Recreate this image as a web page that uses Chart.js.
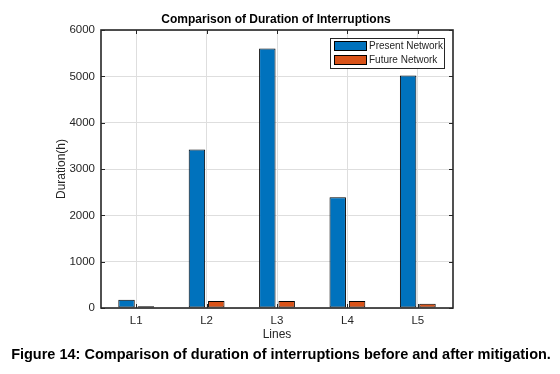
<!DOCTYPE html>
<html>
<head>
<meta charset="utf-8">
<script src="https://cdn.jsdelivr.net/npm/chart.js@4.4.1/dist/chart.umd.min.js"></script>
<style>
  html, body { margin: 0; padding: 0; background: #fff; }
  canvas { display: block; }
</style>
</head>
<body>
<canvas id="barChart" width="560" height="374"></canvas>
<script>
// data
const categories = ["L1", "L2", "L3", "L4", "L5"];
const presentNetwork = [180, 3420, 5600, 2390, 5020];
const futureNetwork = [40, 150, 150, 150, 90];
const yTicks = [0, 1000, 2000, 3000, 4000, 5000, 6000];

const chartTitle = "Comparison of Duration of Interruptions";
const caption = "Figure 14: Comparison of duration of interruptions before and after mitigation.";

const FONT = "'Liberation Sans', Arial, sans-serif";
const AXIS = "#262626";

// box, inward ticks, legend, title and caption
const matlabLook = {
    id: "matlabLook",
    afterDatasetsDraw(chart) {
        const ctx = chart.ctx;
        const a = chart.chartArea;
        const xs = chart.scales.x, ys = chart.scales.y;
        ctx.save();
        ctx.strokeStyle = AXIS;
        ctx.lineWidth = 1.6;
        ctx.strokeRect(a.left, a.top, a.right - a.left, a.bottom - a.top);

        // ticks pointing inward
        ctx.lineWidth = 1;
        ctx.beginPath();
        yTicks.forEach(v => {
            const y = Math.round(ys.getPixelForValue(v)) + 0.5;
            ctx.moveTo(a.left, y); ctx.lineTo(a.left + 4, y);
            ctx.moveTo(a.right, y); ctx.lineTo(a.right - 4, y);
        });
        categories.forEach((c, i) => {
            const x = Math.round(xs.getPixelForValue(i)) + 0.5;
            ctx.moveTo(x, a.bottom); ctx.lineTo(x, a.bottom - 4);
            ctx.moveTo(x, a.top); ctx.lineTo(x, a.top + 4);
        });
        ctx.stroke();
        ctx.restore();
    },
    afterDraw(chart) {
        const ctx = chart.ctx;
        ctx.save();

        // legend
        const lx = 330, ly = 38, lw = 114, lh = 30;
        ctx.fillStyle = "#fff";
        ctx.fillRect(lx, ly, lw, lh);
        ctx.strokeStyle = AXIS;
        ctx.lineWidth = 1;
        ctx.strokeRect(lx + 0.5, ly + 0.5, lw, lh);
        ctx.font = "10px " + FONT;
        ctx.textBaseline = "middle";
        chart.data.datasets.forEach((ds, i) => {
            const cy = ly + 8 + i * 14;
            ctx.fillStyle = ds.backgroundColor;
            ctx.fillRect(334, cy - 4.5, 32, 9);
            ctx.strokeStyle = "#000";
            ctx.strokeRect(334.5, cy - 4.5, 32, 9);
            ctx.fillStyle = AXIS;
            ctx.textAlign = "left";
            ctx.fillText(ds.label, 369, cy + 0.5);
        });

        // title
        ctx.fillStyle = "#000";
        ctx.textAlign = "center";
        ctx.textBaseline = "middle";
        ctx.font = "bold 12px " + FONT;
        ctx.fillText(chartTitle, 276, 20);

        // caption
        ctx.font = "bold 14.5px " + FONT;
        ctx.fillText(caption, 281, 355);
        ctx.restore();
    }
};

new Chart(document.getElementById("barChart").getContext("2d"), {
    type: "bar",
    data: {
        labels: categories,
        datasets: [{
            label: "Present Network",
            data: presentNetwork,
            backgroundColor: "#0072BD",
            borderColor: "#000",
            borderWidth: 1,
            borderSkipped: false,
            categoryPercentage: 0.55,
            barPercentage: 0.85
        }, {
            label: "Future Network",
            data: futureNetwork,
            backgroundColor: "#D95319",
            borderColor: "#000",
            borderWidth: 1,
            borderSkipped: false,
            categoryPercentage: 0.55,
            barPercentage: 0.85
        }]
    },
    options: {
        responsive: false,
        animation: false,
        devicePixelRatio: 1,
        layout: { padding: { left: 0, top: 30, right: 107, bottom: 0 } },
        plugins: {
            legend: { display: false },
            title: { display: false },
            tooltip: { enabled: false }
        },
        scales: {
            x: {
                offset: true,
                grid: { offset: false, color: "#dedede", drawTicks: false },
                border: { display: false },
                ticks: { color: AXIS, font: { family: FONT, size: 11.5 }, padding: 6 },
                title: {
                    display: true, text: "Lines", color: AXIS,
                    font: { family: FONT, size: 12 }, padding: { top: 0, bottom: 32 }
                },
                afterFit(scale) { scale.height = 66; }
            },
            y: {
                min: 0,
                max: 6000,
                grid: { color: "#dedede", drawTicks: false },
                border: { display: false },
                ticks: {
                    stepSize: 1000, color: AXIS, padding: 6,
                    font: { family: FONT, size: 11.5 },
                    callback: v => String(v)
                },
                title: {
                    display: true, text: "Duration(h)", color: AXIS,
                    font: { family: FONT, size: 12 }, padding: { top: 54, bottom: 0 }
                },
                afterFit(scale) { scale.width = 101; }
            }
        }
    },
    plugins: [matlabLook]
});
</script>
</body>
</html>
